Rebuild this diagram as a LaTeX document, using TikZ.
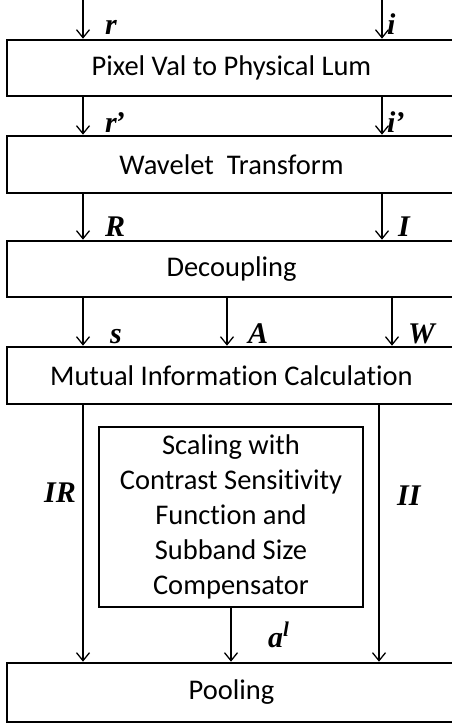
\documentclass[tikz,border=0pt]{standalone}
\usepackage{fontspec}
\setmainfont{Carlito}[Ligatures=NoCommon]
\newfontfamily\lblfont{Liberation Serif}
\usetikzlibrary{arrows.meta}

\tikzset{
    blk/.style={draw, line width=2.6pt, minimum width=449pt, inner sep=0pt,
        font=\fontsize{28.5}{35}\selectfont, align=center},
    lbl/.style={anchor=base west, inner sep=0pt,
        font=\fontsize{30}{34}\lblfont\bfseries\itshape},
    flow/.style={line width=1.3pt, -{Straight Barb[length=8pt,width=13pt,line width=1.3pt]}}
}

\begin{document}
\begin{tikzpicture}[x=1pt, y=-1pt]
    \useasboundingbox (0,0) rectangle (452,725);
    % the processing stages
    \node[blk, minimum height=56pt] (pix) at (231.5,68) {Pixel Val to Physical Lum};
    \node[blk, minimum height=57pt] (wav) at (231.5,164.5) {Wavelet\ \ Transform};
    \node[blk, minimum height=56pt] (dec) at (231.5,269) {Decoupling};
    \node[blk, minimum height=57pt] (mi) at (231.5,375.5) {Mutual Information Calculation};
    \node[blk, minimum width=264pt, minimum height=180pt] (csf) at (231,517)
        {Scaling with\\Contrast Sensitivity\\Function and\\Subband Size\\Compensator};
    \node[blk, minimum height=59pt] (pool) at (231.5,692.5) {Pooling};

    % inputs
    \coordinate (rin) at (83,0);
    \coordinate (iin) at (382,0);
    \draw[flow] (rin) -- (rin |- pix.north);
    \draw[flow] (iin) -- (iin |- pix.north);
    \node[lbl] at (105,35) {r};
    \node[lbl] at (387,35) {i};

    % luminance to wavelet
    \draw[flow] (rin |- pix.south) -- (rin |- wav.north);
    \draw[flow] (iin |- pix.south) -- (iin |- wav.north);
    \node[lbl] at (105,132) {r\kern-2pt’};
    \node[lbl] at (387,132) {i\kern-1pt’};

    % wavelet to decoupling
    \draw[flow] (rin |- wav.south) -- (rin |- dec.north);
    \draw[flow] (iin |- wav.south) -- (iin |- dec.north);
    \node[lbl] at (105,236) {R};
    \node[lbl] at (398,236) {I};

    % decoupling to mutual information
    \draw[flow] (rin |- dec.south) -- (rin |- mi.north);
    \draw[flow] (dec.south -| 227,0) -- (mi.north -| 227,0);
    \draw[flow] (dec.south -| 392,0) -- (mi.north -| 392,0);
    \node[lbl] at (110,343) {s};
    \node[lbl] at (248,343) {A};
    \node[lbl] at (408,343) {W};

    % into pooling
    \draw[flow] (rin |- mi.south) -- (rin |- pool.north);
    \draw[flow] (mi.south -| 379,0) -- (pool.north -| 379,0);
    \draw[flow] (csf.south) -- (csf.south |- pool.north);
    \node[lbl] at (44,502) {IR};
    \node[lbl] at (397,505) {II};
    \node[lbl] at (268,647) {a\raisebox{11pt}{\fontsize{21}{24}\selectfont l}};
\end{tikzpicture}
\end{document}
